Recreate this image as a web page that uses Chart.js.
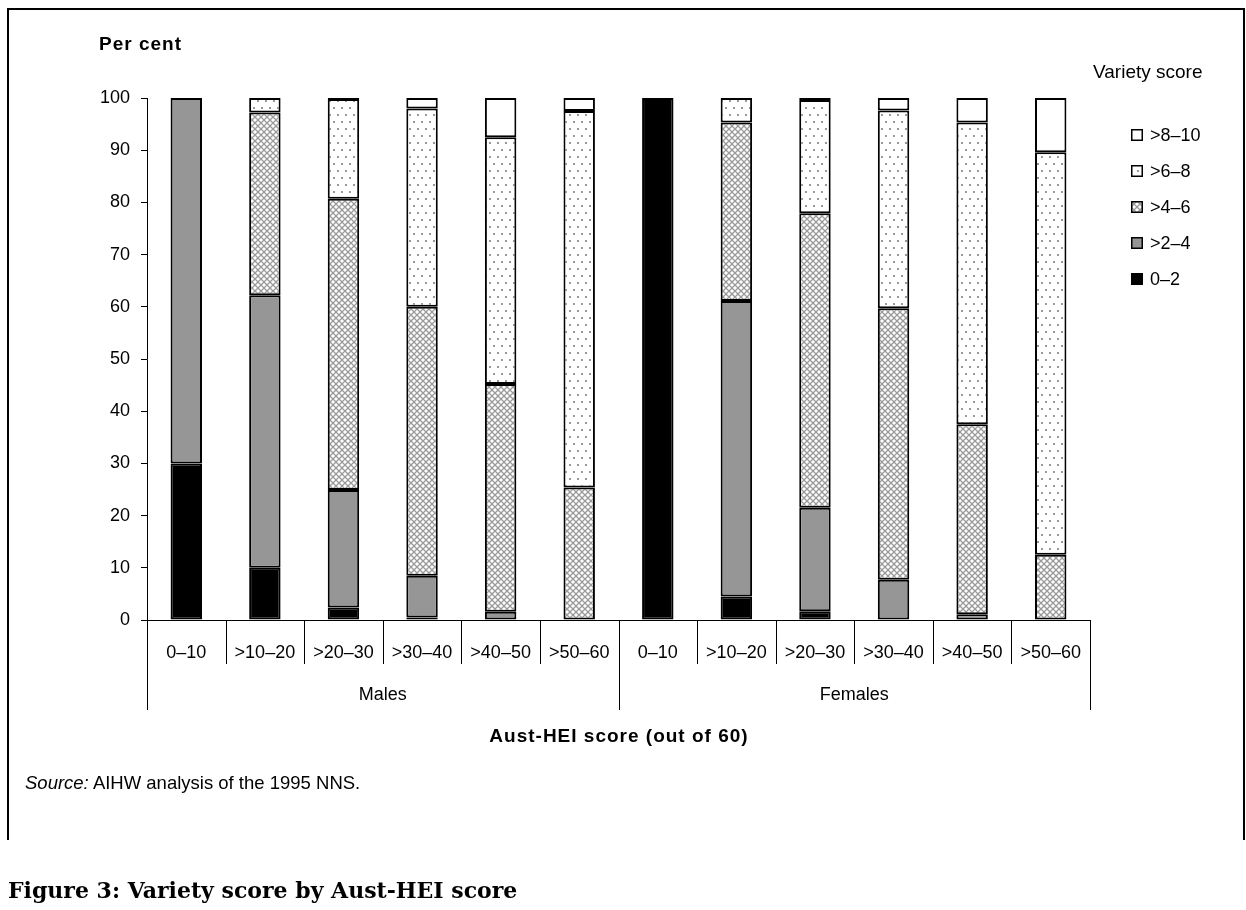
<!DOCTYPE html>
<html>
<head>
<meta charset="utf-8">
<script src="https://cdn.jsdelivr.net/npm/chart.js@4.4.1/dist/chart.umd.min.js"></script>
<style>
    html, body { margin: 0; padding: 0; background: #fff; }
    #wrap { position: relative; width: 1246px; height: 910px; overflow: hidden; }
    #chart { position: absolute; left: 0; top: 0; }
    #frame { position: absolute; left: 7px; top: 8px; width: 1234px; height: 830px;
             border-top: 2px solid #000; border-left: 2px solid #000; border-right: 2px solid #000; }
    .txt { position: absolute; font-family: "Liberation Sans", Arial, sans-serif; color: #000; white-space: nowrap; line-height: 1; }
</style>
</head>
<body>
<div id="wrap">
    <div id="frame"></div>
    <canvas id="chart" width="1246" height="910"></canvas>
    <div class="txt" style="left:99px; top:34px; font-size:19px; font-weight:bold; letter-spacing:1px;">Per cent</div>
    <div class="txt" style="left:1093px; top:62px; font-size:19px;">Variety score</div>
    <div class="txt" style="left:619px; top:726px; font-size:19px; font-weight:bold; letter-spacing:1px; transform:translateX(-50%);">Aust-HEI score (out of 60)</div>
    <div class="txt" style="left:25px; top:774px; font-size:18.5px;"><i>Source:</i> AIHW analysis of the 1995 NNS.</div>
    <div class="txt" style="left:8px; top:879px; font-size:22px; font-weight:bold; font-family:'DejaVu Serif', serif;">Figure 3: Variety score by Aust-HEI score</div>
</div>

<script>
// Aust-HEI score bands, split by sex
const categories = ['0–10', '>10–20', '>20–30', '>30–40', '>40–50', '>50–60',
                    '0–10', '>10–20', '>20–30', '>30–40', '>40–50', '>50–60'];
const groups = ['Males', 'Females'];
const yTicks = [0, 10, 20, 30, 40, 50, 60, 70, 80, 90, 100];

// Per cent in each variety score band
const variety0to2  = [30, 10, 2.4, 0.5, 0, 0, 100, 4.5, 1.7, 0, 0, 0];
const variety2to4  = [70, 52.2, 22.5, 8.0, 1.6, 0, 0, 56.6, 19.8, 7.7, 1.1, 0];
const variety4to6  = [0, 35.0, 55.8, 51.5, 43.6, 25.4, 0, 34.2, 56.4, 52.0, 36.4, 12.5];
const variety6to8  = [0, 2.8, 19.1, 38.0, 47.3, 72.1, 0, 4.7, 21.7, 37.9, 57.8, 77.1];
const variety8to10 = [0, 0, 0.2, 2.0, 7.5, 2.5, 0, 0, 0.4, 2.4, 4.7, 10.4];

const FONT = '"Liberation Sans", Arial, sans-serif';

// lattice fill, like the old Excel pattern
function latticePattern() {
    const c = document.createElement('canvas');
    c.width = 6; c.height = 6;
    const g = c.getContext('2d');
    g.fillStyle = '#fff';
    g.fillRect(0, 0, 6, 6);
    g.strokeStyle = '#9a9a9a';
    g.lineWidth = 1.3;
    g.beginPath();
    g.moveTo(0, 0); g.lineTo(6, 6);
    g.moveTo(6, 0); g.lineTo(0, 6);
    g.stroke();
    return g.createPattern(c, 'repeat');
}

// sparse grey dots on white
function dotPattern() {
    const c = document.createElement('canvas');
    c.width = 8; c.height = 14;
    const g = c.getContext('2d');
    g.fillStyle = '#fff';
    g.fillRect(0, 0, 8, 14);
    g.fillStyle = '#999';
    g.fillRect(1, 2, 2, 2);
    g.fillRect(5, 9, 2, 2);
    return g.createPattern(c, 'repeat');
}

const barStyle = {
    borderColor: '#000',
    borderWidth: 2,
    borderSkipped: false,
    barPercentage: 0.4,
    categoryPercentage: 1.0
};

// x axis separators, group labels and the legend
const decorations = {
    id: 'decorations',
    afterDraw(chart) {
        const { ctx, chartArea } = chart;
        const x = chart.scales.x;
        const half = (x.getPixelForValue(1) - x.getPixelForValue(0)) / 2;
        ctx.save();
        ctx.strokeStyle = '#000';
        ctx.lineWidth = 1;
        for (let i = 0; i <= categories.length; i++) {
            const px = Math.round(i < categories.length ? x.getPixelForValue(i) - half
                                                        : x.getPixelForValue(i - 1) + half) + 0.5;
            const len = (i % 6 === 0) ? 90 : 44;
            ctx.beginPath();
            ctx.moveTo(px, chartArea.bottom);
            ctx.lineTo(px, chartArea.bottom + len);
            ctx.stroke();
        }

        ctx.fillStyle = '#000';
        ctx.font = '18px ' + FONT;
        ctx.textAlign = 'center';
        ctx.textBaseline = 'middle';
        groups.forEach((g, gi) => {
            const a = x.getPixelForValue(gi * 6);
            const b = x.getPixelForValue(gi * 6 + 5);
            ctx.fillText(g, (a + b) / 2, chartArea.bottom + 75);
        });

        // legend, top band first
        const sets = chart.data.datasets.slice().reverse();
        ctx.textAlign = 'left';
        sets.forEach((ds, i) => {
            const cy = 135 + i * 36;
            const sx = chartArea.right + 41;
            ctx.fillStyle = ds.backgroundColor;
            ctx.fillRect(sx, cy - 6, 12, 12);
            ctx.lineWidth = 1.5;
            ctx.strokeRect(sx + 0.75, cy - 5.25, 10.5, 10.5);
            ctx.fillStyle = '#000';
            ctx.fillText(ds.label, sx + 19, cy + 1);
        });
        ctx.restore();
    }
};

const ctx = document.getElementById('chart').getContext('2d');
new Chart(ctx, {
    type: 'bar',
    data: {
        labels: categories,
        datasets: [
            { label: '0–2', data: variety0to2, backgroundColor: '#000', ...barStyle },
            { label: '>2–4', data: variety2to4, backgroundColor: '#969696', ...barStyle },
            { label: '>4–6', data: variety4to6, backgroundColor: latticePattern(), ...barStyle },
            { label: '>6–8', data: variety6to8, backgroundColor: dotPattern(), ...barStyle },
            { label: '>8–10', data: variety8to10, backgroundColor: '#fff', ...barStyle }
        ]
    },
    options: {
        responsive: false,
        animation: false,
        devicePixelRatio: 1,
        layout: {
            padding: { top: 98, right: 156, bottom: 0, left: 0 }
        },
        plugins: {
            legend: { display: false },
            tooltip: { enabled: false }
        },
        scales: {
            x: {
                stacked: true,
                grid: { display: false },
                border: { display: true, color: '#000', width: 1 },
                ticks: {
                    color: '#000',
                    font: { family: FONT, size: 18 },
                    padding: 14,
                    maxRotation: 0,
                    autoSkip: false
                },
                afterFit(scale) { scale.height = 290; }
            },
            y: {
                stacked: true,
                min: 0,
                max: 100,
                grid: { drawOnChartArea: false, drawTicks: true, tickLength: 6, color: '#000' },
                border: { display: true, color: '#000', width: 1 },
                afterBuildTicks(scale) {
                    scale.ticks = yTicks.map(v => ({ value: v }));
                },
                ticks: {
                    color: '#000',
                    font: { family: FONT, size: 18 },
                    padding: 11
                },
                afterFit(scale) { scale.width = 147; }
            }
        }
    },
    plugins: [decorations]
});
</script>
</body>
</html>
